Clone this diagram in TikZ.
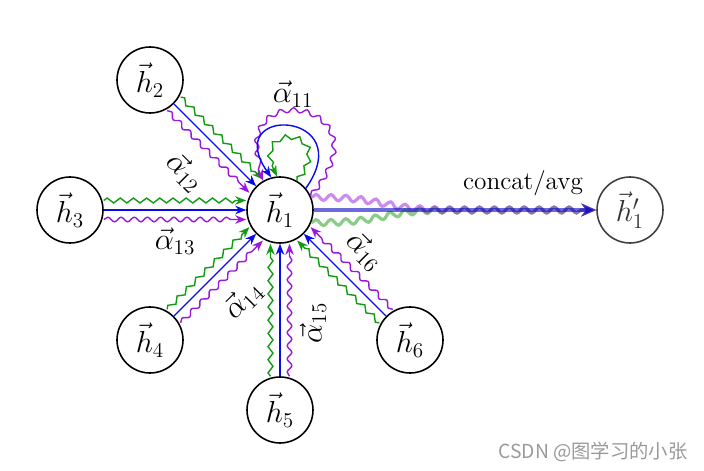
\documentclass[tikz,border=0pt]{standalone}
\usepackage{fontspec}
\newfontfamily\cjk{Noto Sans CJK SC}
\usetikzlibrary{arrows.meta, decorations.pathmorphing}
\definecolor{headblue}{HTML}{0A0AF0}
\definecolor{headgreen}{HTML}{129A12}
\definecolor{headpurple}{HTML}{9A18DC}
\definecolor{markgray}{HTML}{9A9A9A}
\tikzset{
  gat node/.style={circle, draw=black, line width=0.9pt, minimum size=1.32cm,
    inner sep=0pt, font=\LARGE},
  gat out node/.style={gat node, draw=black!75, text=black!80},
  head arrow/.style={line width=0.8pt, -{Stealth[length=2.2mm, width=1.7mm]}},
  head blue/.style={head arrow, draw=headblue},
  head green/.style={head arrow, draw=headgreen, decorate,
    decoration={zigzag, amplitude=1.4pt, segment length=7.5pt, post length=2mm}},
  head purple/.style={head arrow, draw=headpurple, decorate,
    decoration={snake, amplitude=1.3pt, segment length=7.5pt, post length=2mm}},
  out arrow/.style={line width=1.8pt, opacity=0.5,
    -{Stealth[length=3mm, width=2.6mm]}},
  out wave/.style={decorate,
    decoration={snake, amplitude=1.7pt, segment length=8.5pt, post length=3mm}},
  coef label/.style={font=\LARGE},
  agg label/.style={font=\Large},
  watermark/.style={font=\cjk\fontsize{11}{13}\selectfont, text=markgray},
}

\begin{document}
\begin{tikzpicture}[x=1cm, y=1cm]
  \useasboundingbox (0,0) rectangle (14.08,9.4);

  \node[gat node] (h1) at (5.6,5.2) {$\vec{h}_1$};
  \node[gat node] (h2) at (3.0,7.8) {$\vec{h}_2$};
  \node[gat node] (h3) at (1.4,5.2) {$\vec{h}_3$};
  \node[gat node] (h4) at (3.0,2.6) {$\vec{h}_4$};
  \node[gat node] (h5) at (5.6,1.2) {$\vec{h}_5$};
  \node[gat node] (h6) at (8.2,2.6) {$\vec{h}_6$};
  \node[gat out node] (h1p) at (12.6,5.2) {$\vec{h}'_1$};

  \draw[head blue] (h2) -- (h1);
  \draw[head green, transform canvas={shift={(45:0.19)}}] (h2) -- (h1);
  \draw[head purple, transform canvas={shift={(225:0.19)}}] (h2) -- (h1);

  \draw[head blue] (h3) -- (h1);
  \draw[head green, transform canvas={shift={(90:0.19)}}] (h3) -- (h1);
  \draw[head purple, transform canvas={shift={(270:0.19)}}] (h3) -- (h1);

  \draw[head blue] (h4) -- (h1);
  \draw[head green, transform canvas={shift={(135:0.19)}}] (h4) -- (h1);
  \draw[head purple, transform canvas={shift={(315:0.19)}}] (h4) -- (h1);

  \draw[head blue] (h5) -- (h1);
  \draw[head green, transform canvas={shift={(180:0.19)}}] (h5) -- (h1);
  \draw[head purple, transform canvas={shift={(0:0.19)}}] (h5) -- (h1);

  \draw[head blue] (h6) -- (h1);
  \draw[head green, transform canvas={shift={(225:0.19)}}] (h6) -- (h1);
  \draw[head purple, transform canvas={shift={(45:0.19)}}] (h6) -- (h1);

  \draw[head purple] (h1.25) .. controls +(50:2.5) and +(115:2.3) .. (h1.120);
  \draw[head blue] (h1.40) .. controls +(55:1.9) and +(125:1.8) .. (h1.105);
  \draw[head green] (h1.60) .. controls +(50:1.4) and +(120:1.3) .. (h1.95);

  \coordinate (merge) at (9.0,5.2);
  \draw[out arrow, headgreen, out wave]
    (h1.-22) .. controls +(1.5,0) and +(-1.5,0) .. (merge) -- (h1p);
  \draw[out arrow, headpurple, out wave]
    (h1.22) .. controls +(1.5,0) and +(-1.5,0) .. (merge) -- (h1p);
  \draw[out arrow, headblue!80!black, opacity=0.6] (h1) -- (h1p);

  \node[coef label] (a11) at (5.86,7.52) {$\vec{\alpha}_{11}$};
  \node[coef label, rotate=-45] (a12) at (3.7,5.96) {$\vec{\alpha}_{12}$};
  \node[coef label] (a13) at (3.5,4.58) {$\vec{\alpha}_{13}$};
  \node[coef label, rotate=45] (a14) at (4.86,3.4) {$\vec{\alpha}_{14}$};
  \node[coef label, rotate=90] (a15) at (6.26,2.94) {$\vec{\alpha}_{15}$};
  \node[coef label, rotate=-45] (a16) at (7.3,4.38) {$\vec{\alpha}_{16}$};
  \node[agg label] (agg) at (10.46,5.74) {concat/avg};

  \node[watermark] (mark) at (11.86,0.36) {CSDN @图学习的小张};
\end{tikzpicture}
\end{document}
